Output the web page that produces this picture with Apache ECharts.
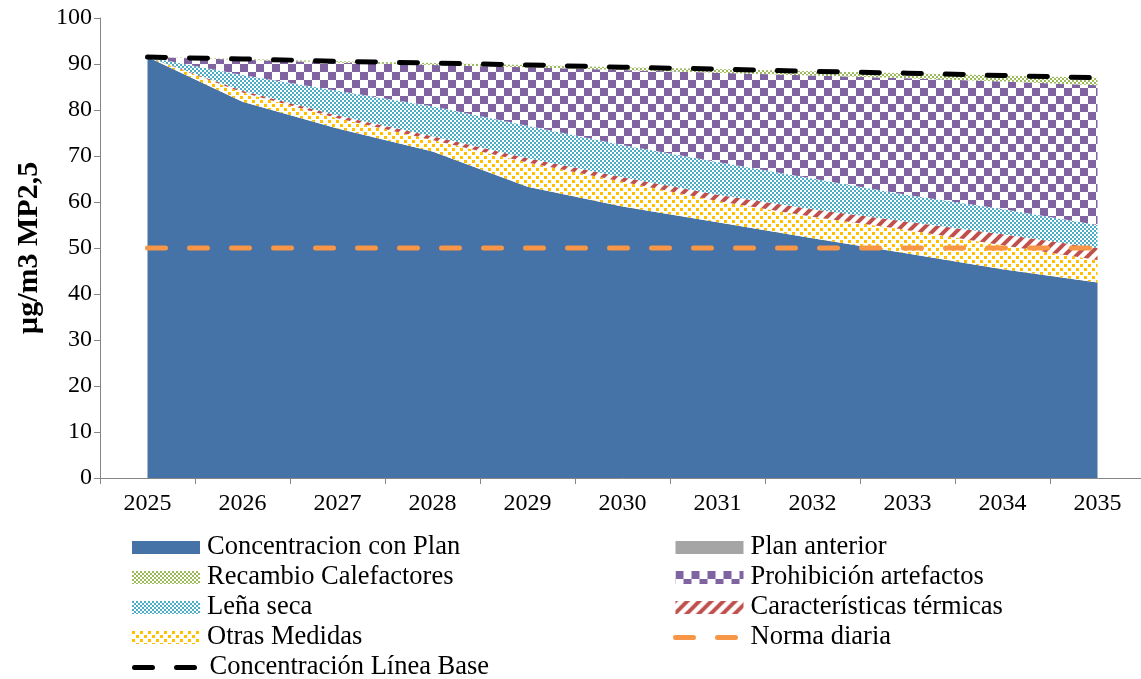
<!DOCTYPE html>
<html>
<head>
<meta charset="utf-8">
<script src="https://cdn.jsdelivr.net/npm/echarts@6/dist/echarts.min.js"></script>
<style>
  html, body { margin: 0; padding: 0; background: #fff; overflow: hidden; }
  #chart { width: 1146px; height: 679px; }
</style>
</head>
<body>
<div id="chart"></div>
<script>
// Años del horizonte del plan
const years = ['2025', '2026', '2027', '2028', '2029', '2030', '2031', '2032', '2033', '2034', '2035'];

// Aportes apilados (µg/m3 MP2,5), de abajo hacia arriba
const concentracionPlan = [91.5, 81.8, 76.0, 71.0, 63.3, 59.0, 55.6, 52.1, 48.8, 45.4, 42.5];
const otrasMedidas      = [0, 2.0, 2.2, 2.5, 5.3, 5.4, 4.6, 4.7, 5.1, 5.2, 4.9];
const caractTermicas    = [0, 0.4, 0.6, 0.8, 0.9, 1.0, 1.4, 1.6, 1.8, 2.4, 2.6];
const lenaSeca          = [0, 3.4, 5.4, 6.5, 7.1, 7.0, 7.1, 6.7, 5.8, 5.5, 5.0];
const prohibicion       = [0, 3.3, 6.1, 9.0, 12.7, 16.3, 19.4, 22.4, 25.4, 27.7, 30.4];
const recambio          = [0, 0.2, 0.3, 0.4, 0.5, 0.6, 0.8, 0.9, 1.1, 1.3, 1.6];
const planAnterior      = [0, 0, 0, 0, 0, 0, 0, 0, 0, 0, 0];

// Líneas de referencia
const lineaBase   = [91.5, 91.1, 90.6, 90.2, 89.8, 89.3, 88.9, 88.4, 88.0, 87.5, 87.0];
const normaDiaria = [50, 50, 50, 50, 50, 50, 50, 50, 50, 50, 50];

const yTicks = { min: 0, max: 100, interval: 10 };

const FONT = "'Liberation Serif', 'Times New Roman', serif";

// ---- Tramas de relleno ----
function makeCanvas(w, h, draw) {
  const c = document.createElement('canvas');
  c.width = w; c.height = h;
  const ctx = c.getContext('2d');
  ctx.fillStyle = '#ffffff';
  ctx.fillRect(0, 0, w, h);
  draw(ctx);
  return { image: c, repeat: 'repeat' };
}
function checker(color, cell) {
  return makeCanvas(cell * 2, cell * 2, ctx => {
    ctx.fillStyle = color;
    ctx.fillRect(0, 0, cell, cell);
    ctx.fillRect(cell, cell, cell, cell);
  });
}
function squares(color) {
  return makeCanvas(8, 8, ctx => {
    ctx.fillStyle = color;
    ctx.fillRect(0, 0, 3, 3);
    ctx.fillRect(4, 4, 3, 3);
  });
}
function stripes(color) {
  const s = 12;
  return makeCanvas(s, s, ctx => {
    ctx.strokeStyle = color;
    ctx.lineWidth = 4;
    ctx.beginPath();
    ctx.moveTo(-2, s + 2); ctx.lineTo(s + 2, -2);
    ctx.moveTo(-2, 2); ctx.lineTo(2, -2);
    ctx.moveTo(s - 2, s + 2); ctx.lineTo(s + 2, s - 2);
    ctx.stroke();
  });
}

const fills = {
  plan: '#4673a7',
  otras: squares('#ffc000'),
  termicas: stripes('#c0504d'),
  lena: checker('#4bacc6', 2),
  prohibicion: checker('#8064a2', 8),
  recambio: checker('#9bbb59', 2),
  anterior: '#a5a5a5'
};

const DASH = { width: 5, type: [18, 24], cap: 'round' };

function areaSeries(name, data, fill) {
  return {
    name: name,
    type: 'line',
    stack: 'total',
    data: data,
    symbol: 'none',
    lineStyle: { width: 0 },
    itemStyle: { color: fill },
    areaStyle: { color: fill, opacity: 1 },
    emphasis: { disabled: true },
    z: 2
  };
}
function dashedSeries(name, data, color) {
  return {
    name: name,
    type: 'line',
    data: data,
    symbol: 'none',
    lineStyle: Object.assign({ color: color }, DASH),
    itemStyle: { color: color },
    emphasis: { disabled: true },
    z: 5
  };
}

const legendText = { fontFamily: FONT, fontSize: 26.5, color: '#000', padding: [0, 0, 0, 2] };
function areaItem(name, fill) {
  return { name: name, icon: 'rect', itemStyle: { color: fill } };
}
function lineItem(name, color) {
  return {
    name: name,
    itemStyle: { opacity: 0 },
    lineStyle: Object.assign({ color: color, opacity: 1 }, DASH)
  };
}
function legendBlock(left, top, items) {
  return {
    orient: 'vertical', left: left, top: top,
    padding: 0,
    itemWidth: 68, itemHeight: 13, itemGap: 3,
    textStyle: legendText,
    selectedMode: false,
    data: items
  };
}

const chart = echarts.init(document.getElementById('chart'), null, { renderer: 'canvas' });
chart.setOption({
  animation: false,
  backgroundColor: '#fff',
  grid: { left: 100, top: 18, right: 1, height: 460, containLabel: false },
  xAxis: {
    type: 'category',
    data: years,
    boundaryGap: true,
    axisLine: { lineStyle: { color: '#868686', width: 1 } },
    axisTick: { show: true, length: 6, lineStyle: { color: '#868686' } },
    axisLabel: { fontFamily: FONT, fontSize: 24, color: '#000', margin: 14 }
  },
  yAxis: {
    type: 'value',
    min: yTicks.min, max: yTicks.max, interval: yTicks.interval,
    name: 'µg/m3 MP2,5',
    nameLocation: 'middle',
    nameRotate: 90,
    nameGap: 56,
    nameTextStyle: { fontFamily: FONT, fontSize: 30, fontWeight: 'bold', color: '#000' },
    splitLine: { show: false },
    axisLine: { show: true, lineStyle: { color: '#868686', width: 1 } },
    axisTick: { show: true, length: 6, lineStyle: { color: '#868686' } },
    axisLabel: { fontFamily: FONT, fontSize: 24, color: '#000', margin: 8 }
  },
  legend: [
    legendBlock(132, 534, [
      areaItem('Concentracion con Plan', fills.plan),
      areaItem('Recambio Calefactores', fills.recambio),
      areaItem('Leña seca', fills.lena),
      areaItem('Otras Medidas', fills.otras)
    ]),
    legendBlock(132, 654, [
      lineItem('Concentración Línea Base', '#000000')
    ]),
    legendBlock(673, 534, [
      areaItem('Plan anterior', fills.anterior),
      areaItem('Prohibición artefactos', fills.prohibicion),
      areaItem('Características térmicas', fills.termicas),
      lineItem('Norma diaria', '#f79646')
    ])
  ],
  series: [
    areaSeries('Concentracion con Plan', concentracionPlan, fills.plan),
    areaSeries('Otras Medidas', otrasMedidas, fills.otras),
    areaSeries('Características térmicas', caractTermicas, fills.termicas),
    areaSeries('Leña seca', lenaSeca, fills.lena),
    areaSeries('Prohibición artefactos', prohibicion, fills.prohibicion),
    areaSeries('Recambio Calefactores', recambio, fills.recambio),
    areaSeries('Plan anterior', planAnterior, fills.anterior),
    dashedSeries('Norma diaria', normaDiaria, '#f79646'),
    dashedSeries('Concentración Línea Base', lineaBase, '#000000')
  ]
});
</script>
</body>
</html>
